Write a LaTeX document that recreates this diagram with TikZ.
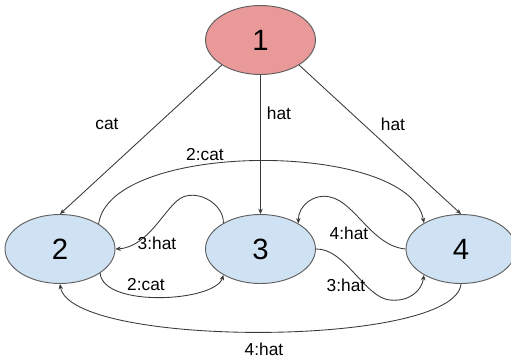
\documentclass[tikz,border=0pt]{standalone}
\usepackage{fontspec}
\setmainfont{Liberation Sans}
\usetikzlibrary{shapes.geometric,arrows.meta}
\definecolor{redfill}{HTML}{EA9999}
\definecolor{bluefill}{HTML}{CFE2F3}
\definecolor{edgecol}{HTML}{3A3A3A}
\definecolor{rimcol}{HTML}{5F5F5F}
\tikzset{
  state/.style={ellipse, draw=rimcol, line width=0.7pt, minimum width=82.5pt,
    minimum height=51.75pt, inner sep=0pt, font=\fontsize{22}{24}\selectfont},
  link/.style={draw=edgecol, line width=0.65pt, -{Stealth[length=4pt,width=3.4pt]}},
  lbl/.style={font=\fontsize{13}{15}\selectfont, inner sep=0pt, text=black},
}
\begin{document}
\begin{tikzpicture}[x=0.75pt,y=-0.75pt]
\useasboundingbox (0,0) rectangle (511,362);

% states
\node[state, fill=redfill]  (n1) at (260.5,40)  {1};
\node[state, fill=bluefill] (n2) at (60,249)    {2};
\node[state, fill=bluefill] (n3) at (260.5,249) {3};
\node[state, fill=bluefill] (n4) at (461,249)   {4};

% edges out of the root
\draw[link] (n1.213) -- (n2.90);
\draw[link] (n1.270) -- (n3.90);
\draw[link] (n1.327) -- (n4.90);

% edges among the lower states
\draw[link] (n2.33) .. controls (110,140) and (410,140) .. (n4.145);
\draw[link] (n3.145) .. controls (224,205) and (200,190) .. (183,197)
                     .. controls (166,204) and (150,247) .. (n2.0);
\draw[link] (n2.-31) .. controls (103,308) and (215,302) .. (n3.215);
\draw[link] (n4.180) .. controls (372,246) and (355,202) .. (330,197)
                     .. controls (315,193) and (298,205) .. (n3.34);
\draw[link] (n3.0) .. controls (345,248) and (365,298) .. (390,300)
                   .. controls (410,302) and (422,290) .. (n4.215);
\draw[link] (n4.270) .. controls (455,348) and (70,348) .. (n2.270);

% labels
\node[lbl] (l12)  at (107,124) {cat};
\node[lbl] (l13)  at (279,113) {hat};
\node[lbl] (l14)  at (393,124) {hat};
\node[lbl] (l24)  at (205,155) {2:cat};
\node[lbl] (l32)  at (157,243) {3:hat};
\node[lbl] (l23)  at (146,285) {2:cat};
\node[lbl] (l43)  at (349,233) {4:hat};
\node[lbl] (l34)  at (346,285) {3:hat};
\node[lbl] (l42)  at (264,349) {4:hat};
\end{tikzpicture}
\end{document}
